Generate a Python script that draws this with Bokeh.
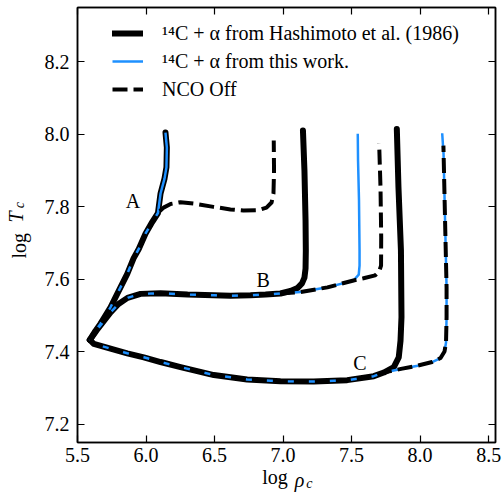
from bokeh.plotting import figure
from bokeh.models import (Range1d, LinearAxis, FixedTicker, Legend,
                          LegendItem, ColumnDataSource, CustomJSTickFormatter)
from bokeh.embed import file_html
from bokeh.resources import INLINE
from bokeh.core.properties import value

FONT = "Liberation Serif"
BLUE = "#1E90FF"

# ---------------- data ----------------
x_ticks = [5.5, 6.0, 6.5, 7.0, 7.5, 8.0, 8.5]
x_tick_labels = ["5.5", "6.0", "6.5", "7.0", "7.5", "8.0", "8.5"]
y_ticks = [7.2, 7.4, 7.6, 7.8, 8.0, 8.2]
y_tick_labels = ["7.2", "7.4", "7.6", "7.8", "8.0", "8.2"]

# Track A: common path from the starting point to the branching point
a_shared_x = [5.590, 5.631, 5.668, 5.704, 5.741, 5.799, 5.863, 5.909, 5.947, 5.996, 6.045, 6.087]
a_shared_y = [7.433, 7.458, 7.478, 7.500, 7.523, 7.567, 7.615, 7.658, 7.684, 7.726, 7.758, 7.783]
# Track A: 14C+alpha (both rates) upper part
a_top_x = [6.106, 6.135, 6.149, 6.152, 6.142]
a_top_y = [7.837, 7.878, 7.909, 7.964, 8.005]
# Track A: NCO off upper part
a_nco_x = [6.128, 6.179, 6.252, 6.346, 6.492, 6.616, 6.711, 6.821, 6.879, 6.916, 6.930, 6.934, 6.932]
a_nco_y = [7.798, 7.808, 7.813, 7.809, 7.800, 7.793, 7.790, 7.791, 7.798, 7.812, 7.837, 7.900, 7.983]

# Track B: common path
b_shared_x = [5.590, 5.639, 5.690, 5.741, 5.799, 5.865, 5.960, 6.106, 6.303, 6.492,
              6.616, 6.762, 6.872, 6.981, 7.054, 7.127]
b_shared_y = [7.433, 7.459, 7.484, 7.509, 7.532, 7.549, 7.560, 7.562, 7.558, 7.556,
              7.555, 7.556, 7.558, 7.561, 7.563, 7.565]
# Track B: Hashimoto et al. (1986) branch (leaves common path at 6.981)
b_hash_x = [7.054, 7.105, 7.138, 7.156, 7.164, 7.166, 7.164, 7.156, 7.145]
b_hash_y = [7.568, 7.576, 7.589, 7.605, 7.630, 7.680, 7.762, 7.900, 8.011]
# Track B: this work branch
b_work_x = [7.324, 7.514, 7.552, 7.558, 7.558, 7.554, 7.547, 7.545]
b_work_y = [7.578, 7.597, 7.613, 7.638, 7.680, 7.818, 7.928, 8.002]
# Track B: NCO off branch
b_nco_x = [7.324, 7.514, 7.587, 7.672, 7.701, 7.715, 7.716, 7.711, 7.701]
b_nco_y = [7.578, 7.597, 7.603, 7.611, 7.622, 7.638, 7.716, 7.853, 7.975]

# Track C: common path
c_shared_x = [5.590, 5.619, 5.741, 5.863, 5.984, 6.106, 6.252, 6.495, 6.738, 6.981,
              7.224, 7.468, 7.662, 7.735]
c_shared_y = [7.433, 7.422, 7.409, 7.396, 7.385, 7.372, 7.358, 7.336, 7.324, 7.319,
              7.318, 7.322, 7.333, 7.343]
# Track C: Hashimoto et al. (1986) branch
c_hash_x = [7.808, 7.844, 7.857, 7.864, 7.860, 7.842, 7.830]
c_hash_y = [7.358, 7.385, 7.431, 7.496, 7.680, 7.854, 8.015]
# Track C: this work / NCO off branch
c_work_x = [7.860, 7.982, 8.088, 8.149, 8.178, 8.189, 8.193, 8.193, 8.182, 8.171, 8.161]
c_work_y = [7.353, 7.362, 7.372, 7.383, 7.401, 7.426, 7.496, 7.578, 7.762, 7.946, 8.003]
c_nco_x = [7.860, 7.982, 8.088, 8.149, 8.178, 8.189, 8.193, 8.193, 8.182, 8.170]
c_nco_y = [7.353, 7.362, 7.372, 7.383, 7.401, 7.426, 7.496, 7.578, 7.762, 7.969]

track_names = ["A", "B", "C"]
track_label_x = [5.905, 6.854, 7.561]
track_label_y = [7.817, 7.599, 7.368]

legend_labels = ["\u00b9\u2074C + \u03b1 from Hashimoto et al. (1986)",
                 "\u00b9\u2074C + \u03b1 from this work.",
                 "NCO Off"]

# axis titles: text parts and the data position of each part's centre
x_title_parts = ["log", "\u03c1", "c"]
x_title_pos = [6.941, 7.120, 7.191]
y_title_parts = ["log", "T", "c"]
y_title_pos = [7.693, 7.772, 7.805]

# ---------------- curves ----------------
hash_curves = [
    (a_shared_x + a_top_x, a_shared_y + a_top_y),
    (b_shared_x[:14] + b_hash_x, b_shared_y[:14] + b_hash_y),
    (c_shared_x + c_hash_x, c_shared_y + c_hash_y),
]
work_curves = [
    (a_shared_x + a_top_x, a_shared_y + a_top_y),
    (b_shared_x + b_work_x, b_shared_y + b_work_y),
    (c_shared_x + c_work_x, c_shared_y + c_work_y),
]
nco_curves = [
    (a_shared_x + a_nco_x, a_shared_y + a_nco_y),
    (b_shared_x + b_nco_x, b_shared_y + b_nco_y),
    (c_shared_x + c_nco_x, c_shared_y + c_nco_y),
]

p = figure(width=503, height=495, output_backend="svg", toolbar_location=None,
           x_range=Range1d(5.5, 8.55), y_range=Range1d(7.15, 8.35),
           min_border_left=77, min_border_right=8, min_border_top=7,
           min_border_bottom=53)
p.grid.visible = False
p.outline_line_color = "black"
p.outline_line_width = 1.5
p.background_fill_color = "white"
p.border_fill_color = "white"


def style_axis(ax, ticks, labels, show):
    ax.ticker = FixedTicker(ticks=ticks)
    ax.major_tick_in = 7
    ax.major_tick_out = 0
    ax.minor_tick_in = 0
    ax.minor_tick_out = 0
    ax.axis_line_color = "black"
    ax.axis_line_width = 1.5
    ax.major_tick_line_color = "black"
    ax.major_tick_line_width = 1.2
    ax.major_label_text_font = FONT
    ax.major_label_text_font_size = "20px"
    ax.major_label_text_color = "black"
    if show:
        ax.major_label_overrides = {t: s for t, s in zip(ticks, labels)}
    else:
        ax.formatter = CustomJSTickFormatter(code="return ''")
        ax.major_label_standoff = 0
        ax.major_label_text_font_size = "1px"


style_axis(p.xaxis[0], x_ticks, x_tick_labels, True)
p.xaxis[0].major_label_standoff = 5
style_axis(p.yaxis[0], y_ticks, y_tick_labels, True)
p.yaxis[0].major_label_standoff = 8

top_ax = LinearAxis()
style_axis(top_ax, x_ticks, x_tick_labels, False)
p.add_layout(top_ax, "above")
right_ax = LinearAxis()
style_axis(right_ax, y_ticks, y_tick_labels, False)
p.add_layout(right_ax, "right")


def title_axis(pos, text, size, style, standoff, vertical=False):
    ax = LinearAxis(ticker=FixedTicker(ticks=[pos]),
                    formatter=CustomJSTickFormatter(code="return %r" % text))
    ax.axis_line_alpha = 0
    ax.major_tick_line_alpha = 0
    ax.minor_tick_line_alpha = 0
    ax.major_tick_in = 0
    ax.major_tick_out = 0
    ax.minor_tick_in = 0
    ax.minor_tick_out = 0
    ax.major_label_standoff = standoff
    ax.major_label_text_font = FONT
    ax.major_label_text_font_size = size
    ax.major_label_text_font_style = style
    ax.major_label_text_color = "black"
    if vertical:
        ax.major_label_orientation = "vertical"
    return ax


# x title: "log" roman, subscript c, rho italic (stacked, pulled back onto one line)
p.add_layout(title_axis(x_title_pos[0], x_title_parts[0], "20px", "normal", 1), "below")
p.add_layout(title_axis(x_title_pos[2], x_title_parts[2], "14px", "italic", -15), "below")
p.add_layout(title_axis(x_title_pos[1], x_title_parts[1], "20px", "italic", -25), "below")
# y title: "log" roman, T italic, subscript c
p.add_layout(title_axis(y_title_pos[0], y_title_parts[0], "20px", "normal", 11, True), "left")
p.add_layout(title_axis(y_title_pos[1], y_title_parts[1], "20px", "italic", -22, True), "left")
p.add_layout(title_axis(y_title_pos[2], y_title_parts[2], "14px", "italic", -24, True), "left")

hash_r = []
for xs, ys in hash_curves:
    hash_r.append(p.line(xs, ys, line_color="black", line_width=6,
                         line_join="round", line_cap="round"))
work_r = []
for xs, ys in work_curves:
    work_r.append(p.line(xs, ys, line_color=BLUE, line_width=2.5,
                         line_join="round", line_cap="butt"))
nco_r = []
for xs, ys in nco_curves:
    nco_r.append(p.line(xs, ys, line_color="black", line_width=4,
                        line_dash="15 6", line_join="round", line_cap="butt"))

lab_src = ColumnDataSource(dict(x=track_label_x, y=track_label_y, t=track_names))
p.text(x="x", y="y", text="t", source=lab_src, text_font=value(FONT),
       text_font_size="20px", text_color="black", text_align="center",
       text_baseline="alphabetic")

legend = Legend(items=[LegendItem(label=value(legend_labels[0]), renderers=[hash_r[0]]),
                       LegendItem(label=value(legend_labels[1]), renderers=[work_r[0]]),
                       LegendItem(label=value(legend_labels[2]), renderers=[nco_r[0]])],
                location=(35, 341), padding=0, margin=0, spacing=4,
                glyph_width=31, glyph_height=24, label_height=24,
                label_standoff=19, label_text_font=FONT,
                label_text_font_size="20px", label_text_color="black",
                border_line_alpha=0, background_fill_alpha=0)
p.add_layout(legend)

open("out.html", "w").write(file_html(p, INLINE))
